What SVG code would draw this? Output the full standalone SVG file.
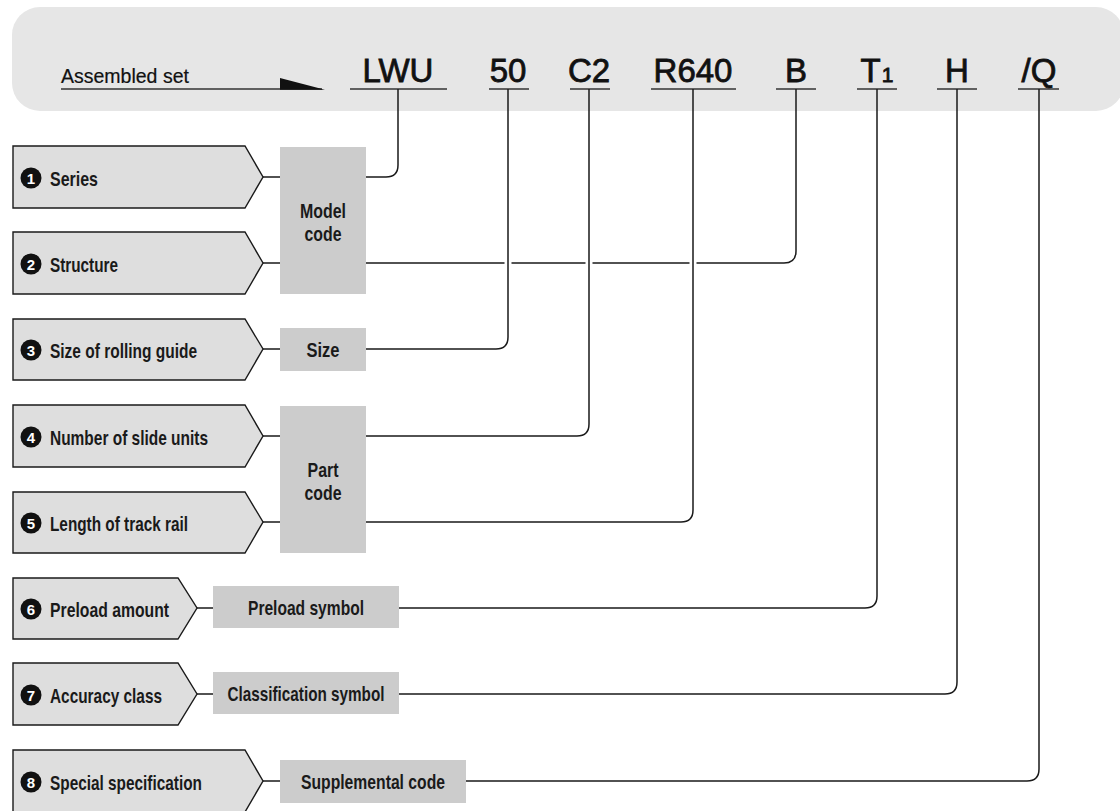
<svg xmlns="http://www.w3.org/2000/svg" width="1120" height="811" viewBox="0 0 1120 811">
<style>
.banner{fill:#e6e6e6}
.node{fill:#dedede;stroke:#1a1a1a;stroke-width:1.4}
.box{fill:#cccccc}
.lbl{font-family:"Liberation Sans",Arial,sans-serif;font-size:21px;font-weight:bold;fill:#1a1a1a}
.mid{text-anchor:middle}
.dot{fill:#111}
.num{font-family:"Liberation Sans",Arial,sans-serif;font-size:15px;font-weight:bold;fill:#fff;text-anchor:middle}
.code{font-family:"Liberation Sans",Arial,sans-serif;font-size:33px;fill:#111;stroke:#111;stroke-width:0.8;text-anchor:middle}
.sub{font-size:21px}
.ul{stroke:#333;stroke-width:1.5;fill:none}
.wire{stroke:#1a1a1a;stroke-width:1.5;fill:none}
</style>

<rect class="banner" x="12" y="7" width="1112" height="104" rx="28"/>

<g id="header">
<text x="61" y="83" font-family="Liberation Sans, Arial, sans-serif" font-size="19.5" fill="#111" stroke="#111" stroke-width="0.2">Assembled set</text>
<line class="ul" x1="61" y1="89" x2="322" y2="89"/>
<polygon points="280,78 280,89.8 325,89.8" fill="#111"/>
<text class="code" x="398" y="82">LWU</text>
<line class="ul" x1="350" y1="89" x2="447" y2="89"/>
<text class="code" x="508" y="82">50</text>
<line class="ul" x1="489" y1="89" x2="529" y2="89"/>
<text class="code" x="589" y="82">C2</text>
<line class="ul" x1="570" y1="89" x2="610" y2="89"/>
<text class="code" x="693" y="82">R640</text>
<line class="ul" x1="651" y1="89" x2="736" y2="89"/>
<text class="code" x="796" y="82">B</text>
<line class="ul" x1="776" y1="89" x2="816" y2="89"/>
<text class="code" x="877" y="82">T<tspan class="sub" dx="1">1</tspan></text>
<line class="ul" x1="857" y1="89" x2="897" y2="89"/>
<text class="code" x="957" y="82">H</text>
<line class="ul" x1="937" y1="89" x2="977" y2="89"/>
<text class="code" x="1039" y="82">/Q</text>
<line class="ul" x1="1018" y1="89" x2="1059" y2="89"/>
</g>

<g id="connectors">
<path class="wire" d="M263,177 H280 M263,263 H280 M263,349 H280 M263,436 H280 M263,522 H280 M197,608 H213 M197,694 H213 M263,781 H280"/>
<path class="wire" d="M366,177 H386 Q398,177 398,165 V89"/>
<path class="wire" d="M366,263 H504.5 M511.5,263 H585.5 M592.5,263 H689.5 M696.5,263 H784 Q796,263 796,251 V89"/>
<path class="wire" d="M366,349 H496 Q508,349 508,337 V89"/>
<path class="wire" d="M366,436 H577 Q589,436 589,424 V89"/>
<path class="wire" d="M366,522 H681 Q693,522 693,510 V89"/>
<path class="wire" d="M399,608 H865 Q877,608 877,596 V89"/>
<path class="wire" d="M399,694 H945 Q957,694 957,682 V89"/>
<path class="wire" d="M466,781 H1027 Q1039,781 1039,769 V89"/>
</g>

<g id="box-model">
<rect class="box" x="280" y="147" width="86" height="147"/>
<text class="lbl mid" x="323" y="218" textLength="46" lengthAdjust="spacingAndGlyphs">Model</text>
<text class="lbl mid" x="323" y="241" textLength="37" lengthAdjust="spacingAndGlyphs">code</text>
</g>
<g id="box-size">
<rect class="box" x="280" y="328" width="86" height="43"/>
<text class="lbl mid" x="323" y="357" textLength="33" lengthAdjust="spacingAndGlyphs">Size</text>
</g>
<g id="box-part">
<rect class="box" x="280" y="406" width="86" height="147"/>
<text class="lbl mid" x="323" y="477" textLength="31" lengthAdjust="spacingAndGlyphs">Part</text>
<text class="lbl mid" x="323" y="500" textLength="37" lengthAdjust="spacingAndGlyphs">code</text>
</g>
<g id="box-preload">
<rect class="box" x="213" y="586" width="186" height="42"/>
<text class="lbl mid" x="306" y="615" textLength="116" lengthAdjust="spacingAndGlyphs">Preload symbol</text>
</g>
<g id="box-class">
<rect class="box" x="213" y="672" width="186" height="42"/>
<text class="lbl mid" x="306" y="701" textLength="157" lengthAdjust="spacingAndGlyphs">Classification symbol</text>
</g>
<g id="box-supp">
<rect class="box" x="280" y="760" width="186" height="43"/>
<text class="lbl mid" x="373" y="789" textLength="144" lengthAdjust="spacingAndGlyphs">Supplemental code</text>
</g>

<g id="node1">
<polygon class="node" points="13,146 245,146 263,177 245,208 13,208"/>
<circle class="dot" cx="31" cy="178" r="10.5"/><text class="num" x="31" y="183.5">1</text>
<text class="lbl" x="50" y="185.5" textLength="48" lengthAdjust="spacingAndGlyphs">Series</text>
</g>
<g id="node2">
<polygon class="node" points="13,232 245,232 263,263 245,294 13,294"/>
<circle class="dot" cx="31" cy="264" r="10.5"/><text class="num" x="31" y="269.5">2</text>
<text class="lbl" x="50" y="271.5" textLength="68" lengthAdjust="spacingAndGlyphs">Structure</text>
</g>
<g id="node3">
<polygon class="node" points="13,319 245,319 263,349 245,380 13,380"/>
<circle class="dot" cx="31" cy="350" r="10.5"/><text class="num" x="31" y="355.5">3</text>
<text class="lbl" x="50" y="357.5" textLength="147" lengthAdjust="spacingAndGlyphs">Size of rolling guide</text>
</g>
<g id="node4">
<polygon class="node" points="13,405 245,405 263,436 245,467 13,467"/>
<circle class="dot" cx="31" cy="437" r="10.5"/><text class="num" x="31" y="442.5">4</text>
<text class="lbl" x="50" y="444.5" textLength="158" lengthAdjust="spacingAndGlyphs">Number of slide units</text>
</g>
<g id="node5">
<polygon class="node" points="13,492 245,492 263,522 245,553 13,553"/>
<circle class="dot" cx="31" cy="523" r="10.5"/><text class="num" x="31" y="528.5">5</text>
<text class="lbl" x="50" y="530.5" textLength="138" lengthAdjust="spacingAndGlyphs">Length of track rail</text>
</g>
<g id="node6">
<polygon class="node" points="13,578 178,578 197,608 178,639 13,639"/>
<circle class="dot" cx="31" cy="609" r="10.5"/><text class="num" x="31" y="614.5">6</text>
<text class="lbl" x="50" y="616.5" textLength="119" lengthAdjust="spacingAndGlyphs">Preload amount</text>
</g>
<g id="node7">
<polygon class="node" points="13,663 178,663 197,694 178,725 13,725"/>
<circle class="dot" cx="31" cy="695" r="10.5"/><text class="num" x="31" y="700.5">7</text>
<text class="lbl" x="50" y="702.5" textLength="112" lengthAdjust="spacingAndGlyphs">Accuracy class</text>
</g>
<g id="node8">
<polygon class="node" points="13,750 245,750 263,781 245,812 13,812"/>
<circle class="dot" cx="31" cy="782" r="10.5"/><text class="num" x="31" y="787.5">8</text>
<text class="lbl" x="50" y="789.5" textLength="152" lengthAdjust="spacingAndGlyphs">Special specification</text>
</g>
</svg>
